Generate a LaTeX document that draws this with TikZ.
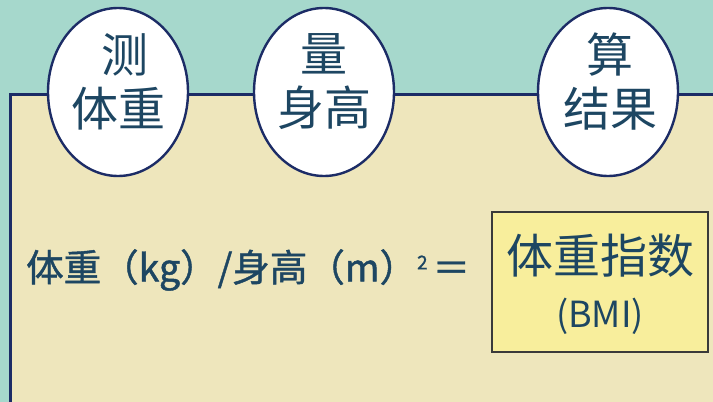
\documentclass[tikz,border=0pt]{standalone}
\usepackage{fontspec}
\setmainfont{Noto Sans CJK SC}
\newfontfamily\cjk{Noto Sans CJK SC}
\newfontfamily\cjkmed[FakeBold=1.2]{Noto Sans CJK SC}
\usetikzlibrary{shapes.geometric}
\definecolor{bgteal}{HTML}{A6D8CC}
\definecolor{panelfill}{HTML}{EEE6BC}
\definecolor{navy}{HTML}{1C2C66}
\definecolor{inkblue}{HTML}{1D4662}
\definecolor{boxyellow}{HTML}{F8EE9C}
\definecolor{boxline}{HTML}{3A3A3A}
\tikzset{
  stepoval/.style={ellipse, draw=navy, line width=2.4pt, fill=white,
    minimum width=140pt, minimum height=168pt, inner sep=0pt},
  ovaltext/.style={text=inkblue, align=center, inner sep=0pt,
    font=\cjk\fontsize{47}{54}\selectfont},
  formula/.style={text=inkblue, anchor=west, inner sep=0pt,
    font=\cjkmed\fontsize{37.5}{44}\selectfont},
  resultbox/.style={draw=boxline, line width=1.2pt, fill=boxyellow,
    minimum width=216pt, minimum height=140pt, inner sep=0pt}
}
\begin{document}
\begin{tikzpicture}[x=1pt,y=-1pt]
\useasboundingbox (0,0) rectangle (713,402);
\fill[bgteal] (0,0) rectangle (713,402);
% panel
\fill[panelfill] (10,94) rectangle (715,404);
\draw[navy, line width=3pt] (10,404) -- (10,94) -- (715,94);
% step ovals
\node[stepoval] (e1) at (118,92) {};
\node[stepoval] (e2) at (324,92) {};
\node[stepoval] (e3) at (608,92) {};
\node[ovaltext] (t1) at (118,82) {\hspace*{0.3em}测\\体重};
\node[ovaltext] (t2) at (324,82) {量\\身高};
\node[ovaltext] (t3) at (610,82) {算\\结果};
% formula
\node[formula] (f) at (26,270) {体重（kg）/身高（m）\raisebox{12pt}{\fontsize{19}{20}\selectfont 2}\hspace{5pt}＝};
% result box
\node[resultbox] (r) at (600,282) {};
\node[text=inkblue, font=\cjk\fontsize{47}{50}\selectfont] (r1) at (600,256) {体重指数};
\node[text=inkblue, font=\cjk\fontsize{36}{40}\selectfont] (r2) at (600,316) {(BMI)};
\end{tikzpicture}
\end{document}
